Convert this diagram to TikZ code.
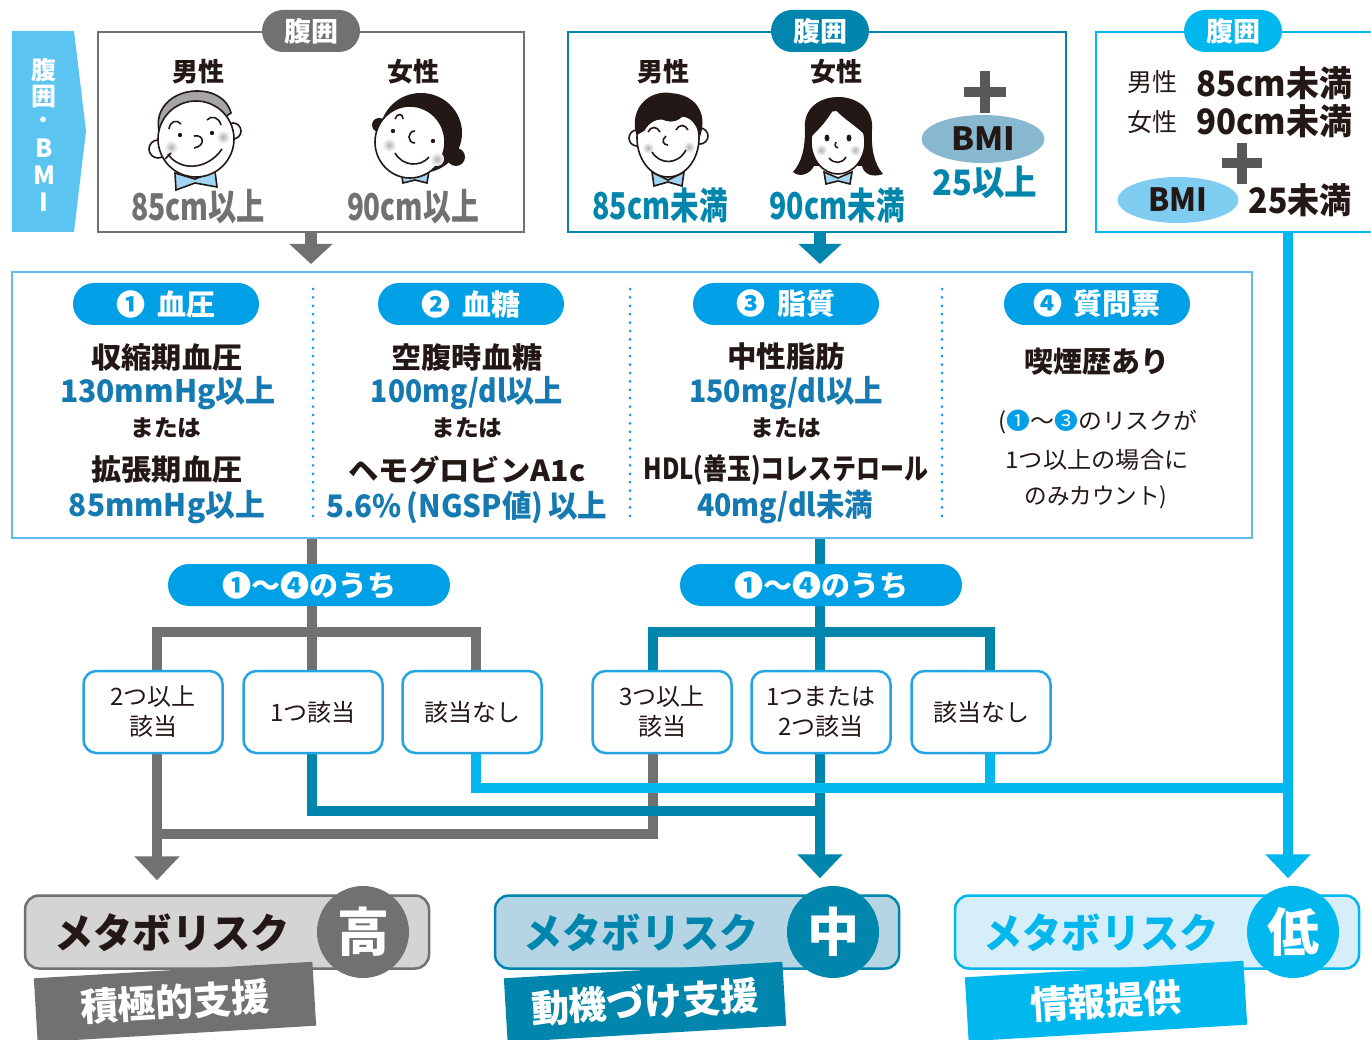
\documentclass[tikz,border=0pt]{standalone}
\usepackage{fontspec}
\usepackage{graphicx}
\usetikzlibrary{arrows.meta,calc,shapes.geometric}
\setmainfont{Noto Sans CJK JP}

\definecolor{ink}{RGB}{35,24,21}
\definecolor{mgray}{RGB}{113,113,113}
\definecolor{mteal}{RGB}{0,134,173}
\definecolor{mcyan}{RGB}{0,183,238}
\definecolor{pillblue}{RGB}{0,160,230}
\definecolor{boxblue}{RGB}{35,165,228}
\definecolor{panelblue}{RGB}{95,188,236}
\definecolor{tabblue}{RGB}{92,196,241}
\definecolor{valblue}{RGB}{22,122,178}
\definecolor{bmidark}{RGB}{136,184,208}
\definecolor{bmilight}{RGB}{126,205,240}
\definecolor{grayfill}{RGB}{212,212,212}
\definecolor{tealfill}{RGB}{181,213,229}
\definecolor{cyanfill}{RGB}{214,237,250}
\definecolor{plusgray}{RGB}{89,87,87}
\definecolor{tieblue}{RGB}{160,214,242}
\definecolor{hairgray}{RGB}{165,165,165}

\newcommand\fs[1]{\fontsize{#1}{#1}\selectfont}
% squeeze a line of text horizontally to a given width (in pt)
\newcommand\sq[2]{\resizebox{#1pt}{\height}{#2}}

\begin{document}
\begin{tikzpicture}[x=1pt,y=-1pt,
  txt/.style={inner sep=0pt,anchor=center,text=ink},
  hdl/.style={txt,font=\fs{26}\bfseries},
  waist/.style={txt,font=\fs{37}\bfseries},
  tabchar/.style={txt,text=white,font=\fs{25}\bfseries},
  toppill/.style={fill=#1,rounded corners=21pt,minimum width=98pt,minimum height=42pt,inner sep=0pt,text=white,font=\fs{27}\bfseries},
  topbox/.style={draw=#1,line width=2.5pt,inner sep=0pt},
  bmioval/.style={ellipse,fill=#1,inner sep=0pt,text=ink,font=\fs{32}\bfseries},
  plussign/.style={draw=plusgray,line width=10pt},
  colpill/.style={fill=pillblue,rounded corners=21pt,minimum width=186pt,minimum height=42pt,inner sep=0pt,text=white,font=\fs{29}\bfseries},
  headtxt/.style={txt,font=\fs{29}\bfseries},
  valtxt/.style={txt,text=valblue,font=\fs{31}\bfseries},
  oratxt/.style={txt,font=\fs{23}\bfseries},
  notetxt/.style={txt,font=\fs{23}},
  sepline/.style={draw=pillblue,line width=3pt,line cap=round,dash pattern=on 0pt off 8.4pt},
  cntpill/.style={fill=pillblue,rounded corners=21pt,minimum width=282pt,minimum height=42pt,inner sep=0pt,text=white,font=\fs{29}\bfseries},
  choicebox/.style={draw=boxblue,line width=2.5pt,fill=white,rounded corners=13pt,minimum width=139pt,minimum height=82pt,inner sep=0pt,align=center,text=ink,font=\fontsize{24}{30}\selectfont},
  gline/.style={draw=mgray,line width=10pt},
  tline/.style={draw=mteal,line width=10pt},
  cline/.style={draw=mcyan,line width=10pt},
  bigtip/.style={-{Triangle[width=44pt,length=24pt]}},
  toptip/.style={line width=12pt,-{Triangle[width=42pt,length=20pt]}},
  resbox/.style={line width=2.5pt,rounded corners=14pt,minimum width=404pt,minimum height=73pt,inner sep=0pt},
  resword/.style={txt,font=\fs{41}\bfseries},
  rescircle/.style={circle,fill=#1,minimum size=92pt,inner sep=0pt,text=white,font=\fs{52}\bfseries},
  supporttag/.style={fill=#1,rotate=3.4,minimum width=279pt,minimum height=64pt,inner sep=0pt,text=white,font=\fs{38}\bfseries},
  facepen/.style={line width=1.6pt,color=ink},
]
\fill[white] (0,0) rectangle (1371,1040);
\useasboundingbox (0,0) rectangle (1371,1040);

% ---------- side tab ----------
\fill[tabblue] (12,31) -- (74,31) -- (86,131) -- (74,232) -- (12,232) -- cycle;
\node[tabchar] (tab1) at (44,70) {腹};
\node[tabchar] (tab2) at (44,97) {囲};
\node[tabchar,font=\fs{20}\bfseries] (tab3) at (44,122) {・};
\node[tabchar] (tab4) at (44,148) {B};
\node[tabchar] (tab5) at (44,175) {M};
\node[tabchar] (tab6) at (44,202) {I};

% ---------- top boxes ----------
\node[topbox=mgray,minimum width=426pt,minimum height=200pt] (t1) at (311,132) {};
\node[topbox=mteal,minimum width=498pt,minimum height=200pt] (t2) at (817,132) {};
\node[topbox=mcyan,minimum width=294pt,minimum height=200pt] (t3) at (1243,132) {};
\node[toppill=mgray] (w1) at (311,31) {腹囲};
\node[toppill=mteal] (w2) at (820,31) {腹囲};
\node[toppill=mcyan] (w3) at (1233,31) {腹囲};

% box 1 : older faces
\node[hdl] (m1) at (198,72) {男性};
\node[hdl] (f1) at (413,72) {女性};
\begin{scope}[shift={(195,137)},facepen]
  \filldraw[fill=tieblue] (-20,36) -- (0,42) -- (20,34) -- (22,50) -- (0,46) -- (-19,53) -- cycle;
  \filldraw[fill=white] (-37,12) circle (9);
  \filldraw[fill=white] (38,-6) circle (8);
  \filldraw[fill=hairgray] (-36,-6) .. controls (-42,-36) and (-10,-52) .. (16,-44) .. controls (28,-40) and (34,-32) .. (36,-24) -- (0,0) -- cycle;
  \filldraw[fill=white] (1,2) circle (38);
  \shade[inner color=black!30,outer color=white] (-24,10) circle (7);
  \shade[inner color=black!30,outer color=white] (28,0) circle (7);
  \draw (-26,-8) .. controls (-25,-16) and (-18,-18) .. (-14,-13);
  \fill (-15,-2) circle (2.2);
  \draw (12,-17) .. controls (16,-22) and (24,-20) .. (26,-12);
  \fill (17,-4) circle (2.2);
  \draw (-1,-1) .. controls (9,-3) and (11,9) .. (-1,11);
  \draw (-27,17) .. controls (-16,34) and (12,34) .. (27,12);
  \draw (-24,16) -- (-30,22);
\end{scope}
\begin{scope}[shift={(415,137)},facepen]
  \filldraw[fill=tieblue] (-14,34) -- (0,40) -- (14,34) -- (12,46) -- (0,43) -- (-12,46) -- cycle;
  \fill (6,-4) ellipse (41 and 40);
  \fill (41,20) circle (9);
  \fill (-36,-12) circle (7);
  \filldraw[fill=white] (-5,5) ellipse (35 and 36);
  \shade[inner color=black!30,outer color=white] (-26,8) circle (7);
  \shade[inner color=black!30,outer color=white] (22,22) circle (7);
  \draw (-20,-18) .. controls (-18,-24) and (-12,-24) .. (-12,-18);
  \fill (-22,-6) circle (2.2);
  \fill (18,4) circle (2.2);
  \draw (0,-6) .. controls (-8,-6) and (-8,6) .. (0,6);
  \draw (-20,16) .. controls (-12,30) and (6,30) .. (14,20);
\end{scope}
\node[waist,text=mgray] (v1) at (198,207) {\sq{134}{85cm以上}};
\node[waist,text=mgray] (v2) at (413,207) {\sq{132}{90cm以上}};

% box 2 : younger faces + BMI
\node[hdl] (m2) at (663,72) {男性};
\node[hdl] (f2) at (836,72) {女性};
\begin{scope}[shift={(668,138)},facepen]
  \filldraw[fill=tieblue] (-16,34) -- (0,42) -- (16,34) -- (14,48) -- (0,44) -- (-14,48) -- cycle;
  \filldraw[fill=white] (-31,0) circle (8);
  \filldraw[fill=white] (32,-2) circle (8);
  \filldraw[fill=white] (0,0) ellipse (31 and 39);
  \filldraw (-31,-4) .. controls (-38,-30) and (-18,-48) .. (4,-44) .. controls (28,-42) and (38,-24) .. (32,-4) .. controls (28,-16) and (22,-22) .. (14,-22) .. controls (10,-18) and (4,-16) .. (-2,-18) .. controls (-10,-22) and (-20,-16) .. (-24,-8) -- cycle;
  \shade[inner color=black!30,outer color=white] (-20,10) circle (6);
  \shade[inner color=black!30,outer color=white] (21,9) circle (6);
  \draw (-20,-6) .. controls (-17,-12) and (-11,-12) .. (-8,-6);
  \draw (8,-8) .. controls (11,-14) and (17,-14) .. (20,-8);
  \draw (-2,-2) .. controls (-7,2) and (-5,7) .. (0,7);
  \draw (-16,14) .. controls (-8,27) and (10,27) .. (18,12);
\end{scope}
\begin{scope}[shift={(838,138)},facepen]
  \fill (-33,-8) .. controls (-38,-52) and (38,-52) .. (34,-8) .. controls (33,10) and (36,26) .. (45,36) .. controls (34,40) and (26,36) .. (24,28) -- (-24,28) .. controls (-28,36) and (-38,40) .. (-45,34) .. controls (-36,24) and (-33,10) .. cycle;
  \filldraw[fill=tieblue] (-14,34) -- (0,40) -- (14,34) -- (12,46) -- (0,43) -- (-12,46) -- cycle;
  \filldraw[fill=white] (0,4) ellipse (27 and 32);
  \fill (-28,0) .. controls (-30,-36) and (24,-40) .. (28,-2) .. controls (16,-14) and (4,-20) .. (-4,-30) .. controls (-10,-18) and (-20,-8) .. cycle;
  \shade[inner color=black!30,outer color=white] (-17,12) circle (6);
  \shade[inner color=black!30,outer color=white] (17,12) circle (6);
  \fill (-11,0) ellipse (2.5 and 3.5);
  \fill (11,0) ellipse (2.5 and 3.5);
  \draw (-2,4) .. controls (-4,8) and (-2,10) .. (0,10);
  \draw (-9,20) .. controls (-4,26) and (4,26) .. (8,19);
\end{scope}
\node[waist,text=mteal] (v3) at (660,205) {\sq{135}{85cm未満}};
\node[waist,text=mteal] (v4) at (837,205) {\sq{135}{90cm未満}};
\draw[plussign] (985,71) -- (985,113) (964,92) -- (1006,92);
\node[bmioval=bmidark,minimum width=123pt,minimum height=48pt] (bmi1) at (983,139) {\sq{64}{BMI}};
\node[waist,text=mteal,font=\fs{35}\bfseries] (bv1) at (985,182) {\sq{105}{25以上}};

% box 3
\node[hdl,font=\fs{25}] (m3) at (1152,82) {男性};
\node[waist,font=\fs{35}\bfseries] (v5) at (1274,83) {\sq{156}{85cm未満}};
\node[hdl,font=\fs{25}] (f3) at (1152,122) {女性};
\node[waist,font=\fs{35}\bfseries] (v6) at (1274,121) {\sq{156}{90cm未満}};
\draw[plussign] (1242,143) -- (1242,184) (1222,163) -- (1262,163);
\node[bmioval=bmilight,minimum width=121pt,minimum height=46pt] (bmi2) at (1178,200) {\sq{59}{BMI}};
\node[waist,font=\fs{35}\bfseries] (bv2) at (1300,200) {\sq{103}{25未満}};

% ---------- criteria panel ----------
\node[draw=panelblue,line width=2pt,minimum width=1240pt,minimum height=266pt,inner sep=0pt] (panel) at (632,405) {};
\draw[mgray,toptip] (t1.south) -- ($(panel.north -| t1.south)+(0,-7)$);
\draw[mteal,toptip] (t2.south -| w2) -- ($(panel.north -| w2)+(0,-7)$);

\draw[sepline] (313,289) -- (313,523);
\draw[sepline] (630,289) -- (630,523);
\draw[sepline] (942,289) -- (942,523);

\node[colpill] (k1) at (166,304) {❶\hspace{12pt}血圧};
\node[colpill] (k2) at (471,304) {❷\hspace{12pt}血糖};
\node[colpill] (k3) at (786,304) {❸\hspace{12pt}脂質};
\node[colpill] (k4) at (1097,304) {❹\hspace{12pt}質問票};

\node[headtxt] (h1a) at (167,357) {\sq{151}{収縮期血圧}};
\node[valtxt]  (c1a) at (168,393) {\sq{216}{130mmHg以上}};
\node[oratxt]  (o1)  at (166,428) {\sq{71}{または}};
\node[headtxt] (h1b) at (167,470) {\sq{151}{拡張期血圧}};
\node[valtxt]  (c1b) at (167,507) {\sq{196}{85mmHg以上}};

\node[headtxt] (h2a) at (467,357) {\sq{151}{空腹時血糖}};
\node[valtxt]  (c2a) at (467,393) {\sq{192}{100mg/dl以上}};
\node[oratxt]  (o2)  at (467,428) {\sq{71}{または}};
\node[headtxt] (h2b) at (467,470) {\sq{237}{ヘモグロビンA1c}};
\node[valtxt]  (c2b) at (467,507) {\sq{281}{5.6\%\,(NGSP値)\,以上}};

\node[headtxt] (h3a) at (786,357) {\sq{118}{中性脂肪}};
\node[valtxt]  (c3a) at (786,393) {\sq{194}{150mg/dl以上}};
\node[oratxt]  (o3)  at (786,428) {\sq{71}{または}};
\node[headtxt] (h3b) at (786,470) {\sq{285}{HDL(善玉)コレステロール}};
\node[valtxt]  (c3b) at (785,507) {\sq{176}{40mg/dl未満}};

\node[headtxt] (h4a) at (1097,362) {\sq{145}{喫煙歴あり}};
\node[notetxt] (n4a) at (1098,422) {\sq{199}{(\textcolor{pillblue}{❶}〜\textcolor{pillblue}{❸}のリスクが}};
\node[notetxt] (n4b) at (1097,460) {\sq{183}{1つ以上の場合に}};
\node[notetxt] (n4c) at (1096,497) {\sq{143}{のみカウント)}};

% ---------- branching ----------
\coordinate (ga) at (157,632);
\coordinate (gb) at (312,632);
\coordinate (gc) at (476,632);
\coordinate (ta) at (653,632);
\coordinate (tb) at (820,632);
\coordinate (tc) at (990,632);
\coordinate (gy) at (157,834);
\coordinate (ty) at (820,811);
\coordinate (cy) at (1288,788);

% answer boxes and result boxes are placed first so that the lines can refer to them
\path (153,712) node[minimum width=139pt,minimum height=82pt] (b1) {}
      (313,712) node[minimum width=139pt,minimum height=82pt] (b2) {}
      (472,712) node[minimum width=139pt,minimum height=82pt] (b3) {}
      (662,712) node[minimum width=139pt,minimum height=82pt] (b4) {}
      (821,712) node[minimum width=139pt,minimum height=82pt] (b5) {}
      (981,712) node[minimum width=139pt,minimum height=82pt] (b6) {};
\node[resbox,draw=mgray,fill=grayfill] (r1) at (227,932) {};
\node[resbox,draw=mteal,fill=tealfill] (r2) at (697,932) {};
\node[resbox,draw=mcyan,fill=cyanfill] (r3) at (1157,932) {};

% upper trees
\draw[gline] (panel.south -| gb) -- (b2.north -| gb);
\draw[gline] (b1.north -| ga) -- (ga) -- (gc) -- (b3.north -| gc);
\draw[tline] (panel.south -| tb) -- (b5.north -| tb);
\draw[tline] (b4.north -| ta) -- (ta) -- (tc) -- (b6.north -| tc);

% lower routes: gray, then teal, then cyan on top
\draw[gline] (b4.south -| ta) |- (gy);
\draw[gline,bigtip,shorten >=14pt] (b1.south -| ga) -- (r1.north -| ga);
\draw[tline] (b2.south -| gb) |- (ty);
\draw[tline,bigtip,shorten >=16pt] (b5.south -| tb) -- (r2.north -| tb);
\draw[cline] (b3.south -| gc) |- (cy);
\draw[cline] (b6.south -| tc) -- (tc |- cy);
\draw[cline,bigtip,shorten >=16pt] (t3.south -| cy) -- (r3.north -| cy);

% count pills
\node[cntpill] (p1) at (309,585) {❶〜❹のうち};
\node[cntpill] (p2) at (821,585) {❶〜❹のうち};

% answer boxes
\node[choicebox] at (b1) {2つ以上\\該当};
\node[choicebox] at (b2) {1つ該当};
\node[choicebox] at (b3) {該当なし};
\node[choicebox] at (b4) {3つ以上\\該当};
\node[choicebox] at (b5) {1つまたは\\2つ該当};
\node[choicebox] at (b6) {該当なし};

% ---------- results ----------
\node[supporttag=mgray] (s1) at (175,1002) {積極的支援};
\node[supporttag=mteal] (s2) at (645,1002) {動機づけ支援};
\node[supporttag=mcyan] (s3) at (1106,1001) {情報提供};

\node[rescircle=mgray] (q1) at (363,932) {高};
\node[rescircle=mteal] (q2) at (833,932) {中};
\node[rescircle=mcyan] (q3) at (1293,932) {低};

\node[resword] (x1) at (172,933) {\sq{235}{メタボリスク}};
\node[resword,text=mteal] (x2) at (641,933) {\sq{235}{メタボリスク}};
\node[resword,text=mcyan] (x3) at (1101,933) {\sq{235}{メタボリスク}};
\end{tikzpicture}
\end{document}
